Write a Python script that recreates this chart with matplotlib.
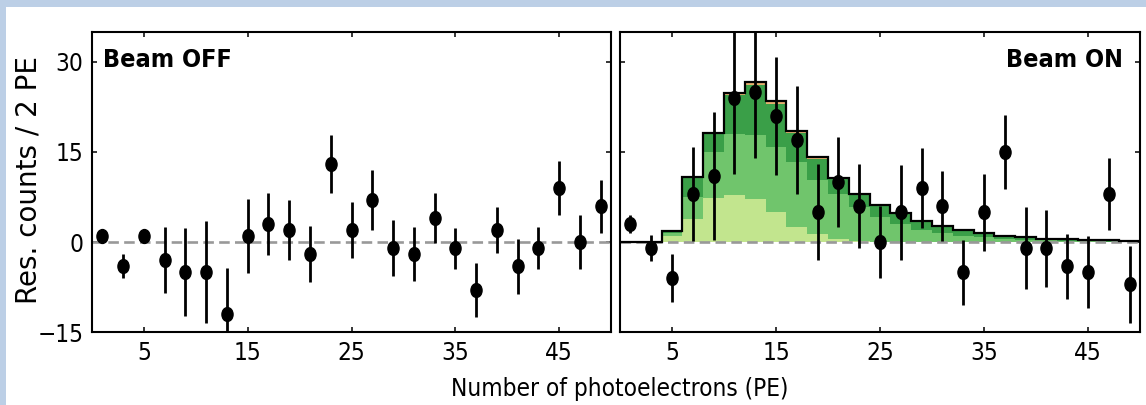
import numpy as np
import matplotlib
matplotlib.use("Agg")
import matplotlib.pyplot as plt
from matplotlib import font_manager as fm
from matplotlib.path import Path
from matplotlib.transforms import Affine2D
from matplotlib.patches import Rectangle

# bin centres (PE) and bin edges, 2 PE per bin
pe = [1, 3, 5, 7, 9, 11, 13, 15, 17, 19, 21, 23, 25, 27, 29, 31, 33, 35, 37, 39, 41, 43, 45, 47, 49]
edges = np.arange(0, 51, 2)

# Beam OFF residuals
off_y = [1, -4, 1, -3, -5, -5, -12, 1, 3, 2, -2, 13, 2, 7, -1, -2, 4, -1, -8, 2, -4, -1, 9, 0, 6]
off_err = [0.8, 2.0, 0.8, 5.5, 7.3, 8.5, 7.7, 6.2, 5.2, 5.0, 4.6, 4.8, 4.7, 5.0, 4.7, 4.5, 4.2, 3.4, 4.5, 3.8, 4.6, 3.5, 4.5, 4.5, 4.4]

# Beam ON residuals
on_y = [3, -1, -6, 8, 11, 24, 25, 21, 17, 5, 10, 6, 0, 5, 9, 6, -5, 5, 15, -1, -1, -4, -5, 8, -7]
on_err = [1.5, 2.2, 4.0, 7.8, 10.6, 12.6, 11.0, 9.8, 9.0, 8.0, 7.5, 7.0, 6.0, 7.9, 6.6, 5.8, 5.4, 6.4, 6.2, 6.8, 6.4, 5.4, 6.0, 6.0, 6.4]

# stacked prediction, one entry per bin
light = [0, 0, 1.1, 3.9, 7.4, 7.8, 7.2, 5.0, 2.5, 1.4, 0.6, 0.2, 0.1, 0, 0, 0, 0, 0, 0, 0, 0, 0, 0, 0, 0]
medium = [0, 0, 0.5, 3.6, 7.6, 10.2, 10.6, 10.8, 10.8, 8.9, 7.4, 5.6, 4.1, 3.0, 2.1, 1.5, 1.1, 0.8, 0.6, 0.4, 0.3, 0.2, 0.15, 0.1, 0.1]
dark = [0, 0, 0.2, 3.3, 3.2, 6.4, 8.4, 7.2, 4.8, 3.5, 2.5, 2.0, 1.9, 1.8, 1.4, 1.1, 0.9, 0.7, 0.5, 0.4, 0.3, 0.25, 0.2, 0.2, 0.1]
orange = [0, 0, 0, 0, 0, 0.4, 0.5, 0.5, 0.4, 0.3, 0.2, 0.2, 0, 0, 0, 0, 0, 0, 0, 0, 0, 0, 0, 0, 0]

layers = [(light, "#c2e58e"), (medium, "#70c56c"), (dark, "#3a9f48"), (orange, "#e8b070")]

# pick a narrow face for the horizontal text
ttf = fm.fontManager.ttflist
if any(f.name == "DejaVu Sans" and f.stretch == "condensed" for f in ttf):
    NARROW, STRETCH = "DejaVu Sans", "condensed"
elif any(f.name == "Liberation Sans Narrow" for f in ttf):
    NARROW, STRETCH = "Liberation Sans Narrow", "normal"
else:
    NARROW, STRETCH = "DejaVu Sans", "normal"

plt.rcParams.update({"font.family": NARROW, "font.stretch": STRETCH, "font.size": 17.5,
                     "axes.linewidth": 1.5})

ell = Path.unit_circle().transformed(Affine2D().scale(0.8, 1.0))

fig = plt.figure(figsize=(11.46, 4.05), dpi=100, facecolor="#bccfe6")
fig.patches.append(Rectangle((6 / 1146, 0), 1, (405 - 7) / 405, transform=fig.transFigure,
                             facecolor="white", edgecolor="none", zorder=-5))

axL = fig.add_axes([92 / 1146, 0.1795, 519 / 1146, 0.7422])
axR = fig.add_axes([620 / 1146, 0.1795, 520 / 1146, 0.7422], sharey=axL)

for ax in (axL, axR):
    ax.set_zorder(2)
    ax.set_xlim(0, 50)
    ax.set_ylim(-15, 35)
    ax.set_xticks([5, 15, 25, 35, 45])
    ax.set_yticks([-15, 0, 15, 30])
    ax.tick_params(direction="in", top=True, right=True, length=3.6, width=1.1, pad=6, labelsize=17.5)
    ax.axhline(0, color="#999999", lw=1.9, ls=(0, (4, 2)), zorder=2)
axR.tick_params(labelleft=False)

# stacked prediction on the Beam ON panel
base = np.zeros(len(light))
for vals, col in layers:
    top = base + np.array(vals)
    axR.stairs(top, edges, baseline=base, fill=True, color=col, lw=0, zorder=1)
    base = top
axR.stairs(base, edges, baseline=None, color="black", lw=1.6, zorder=3)

for ax, y, e in ((axL, off_y, off_err), (axR, on_y, on_err)):
    ax.errorbar(pe, y, yerr=e, marker=ell, ms=10, ls="none", color="black",
                elinewidth=2, capsize=0, zorder=4)

axL.text(0.022, 0.905, "Beam OFF", transform=axL.transAxes, fontsize=18, fontweight="bold",
         ha="left", va="center")
axR.text(0.967, 0.905, "Beam ON", transform=axR.transAxes, fontsize=18, fontweight="bold",
         ha="right", va="center")

fig.text(29 / 1146, 1 - 180 / 405, "Res. counts / 2 PE", rotation=90, ha="center", va="center",
         fontsize=20, family="DejaVu Sans", stretch="normal")
fig.text(620 / 1146, 1 - 389 / 405, "Number of photoelectrons (PE)", ha="center", va="center", fontsize=17.5)

fig.savefig("out.png", dpi=100, facecolor=fig.get_facecolor())
